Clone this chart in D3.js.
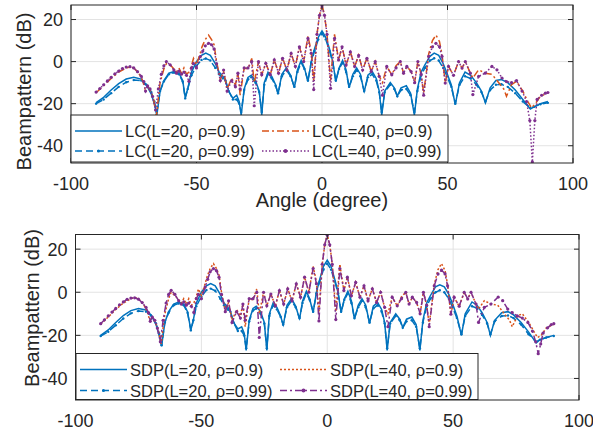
<!DOCTYPE html>
<html>
<head>
<meta charset="utf-8">
<script src="https://cdn.jsdelivr.net/npm/d3@7"></script>
<style>
  body { margin: 0; background: #fff; }
  text { font-family: Arial, "Liberation Sans", sans-serif; fill: #262626; }
</style>
</head>
<body>
<svg id="chart" width="593" height="434"></svg>
<script>
// tick labels
const xTicks = [-100, -50, 0, 50, 100];
const yTicks = [-40, -20, 0, 20];

// legend names
const lcNames = ["LC(L=20, ρ=0.9)", "LC(L=20, ρ=0.99)", "LC(L=40, ρ=0.9)", "LC(L=40, ρ=0.99)"];
const sdpNames = ["SDP(L=20, ρ=0.9)", "SDP(L=20, ρ=0.99)", "SDP(L=40, ρ=0.9)", "SDP(L=40, ρ=0.99)"];

// [angle (deg), beampattern (dB)]
const lc20a = [[-90,-19.5],[-87,-17],[-84,-13.5],[-81,-10.5],[-78,-8.3],[-75,-7.4],[-72,-8.3],[-70,-11],[-68,-15.5],[-66.8,-20],[-65.8,-25.5],[-64.5,-14],[-63,-9],[-61,-5.5],[-59,-4.7],[-57,-5.5],[-55.5,-9],[-54.5,-17],[-53.5,-13],[-52,-5],[-50,0],[-48,3],[-46.3,4],[-44.5,3],[-42.5,-1],[-41,-5],[-39.5,-7],[-38.5,-8.6],[-37.2,-14],[-35.5,-17.5],[-34,-16],[-33,-19],[-32.2,-25.5],[-31,-13],[-29.5,-7.5],[-28.2,-6.5],[-26.5,-9],[-25,-14],[-24,-25.5],[-23,-10],[-21.5,-5],[-20,-7],[-18.5,-11],[-17.5,-15.5],[-16,-6],[-14.2,-3],[-12.5,-6.5],[-11,-12.5],[-9.8,-4],[-8.3,0.5],[-7,-3],[-5.6,-9.5],[-4.3,0],[-3,6],[-1.5,11.5],[0,14.6],[1.5,11.5],[3,6],[4.3,0],[5.5,-9.5],[6.8,-3],[8.2,0.5],[9.6,-4],[10.8,-12.5],[12.3,-6],[13.8,-3],[15.3,-6],[16.8,-14.5],[18.3,-6.5],[20,-4.7],[21.6,-8],[22.8,-14],[23.8,-25.5],[25,-14],[27.2,-10],[28.8,-12.5],[30,-16.4],[31.5,-12.5],[33.6,-11.5],[35.3,-15],[36.8,-25.5],[38,-13],[39.5,-5],[41,-1.5],[43,2.5],[44.7,4],[46.5,3],[48.3,-1],[49.8,-5.5],[51.5,-11],[53.1,-20.5],[54.8,-10],[57,-5],[59.2,-6.5],[61.5,-10],[63.5,-14],[65.1,-19.6],[67,-12.5],[69.3,-9],[71.5,-8.5],[74,-10],[77,-13.5],[80,-18],[83,-22.5],[84.5,-21.5],[87,-20],[90,-19]];
const lc20b = [[-90,-20],[-87,-18],[-84,-15],[-81,-12],[-78,-9.8],[-75,-8.8],[-72,-9],[-70,-11],[-68,-14.5],[-66.8,-19],[-65.8,-24],[-64.5,-14],[-63,-9.5],[-61,-6],[-59,-5.2],[-57,-6],[-55.5,-9.5],[-54.5,-17.5],[-53.5,-13],[-52,-6.5],[-50,-2],[-48,0.8],[-46.3,1.5],[-44.5,0.5],[-42.5,-3],[-41,-6],[-39.5,-8],[-38.5,-9],[-37.2,-14],[-35.5,-18],[-34,-18],[-33,-20],[-32.2,-24],[-31,-13.5],[-29.5,-8.5],[-28.2,-7.5],[-26.5,-10],[-25,-14.5],[-24,-24],[-23,-11],[-21.5,-6],[-20,-8],[-18.5,-11.5],[-17.5,-15],[-16,-7],[-14.2,-4],[-12.5,-7],[-11,-12],[-9.8,-5],[-8.3,-0.5],[-7,-3.5],[-5.6,-9],[-4.3,-0.5],[-3,5],[-1.5,10.5],[0,13.4],[1.5,10.5],[3,5],[4.3,-0.5],[5.5,-9],[6.8,-3.5],[8.2,-0.5],[9.6,-5],[10.8,-12],[12.3,-7],[13.8,-4],[15.3,-7],[16.8,-14],[18.3,-7.5],[20,-6],[21.6,-9],[22.8,-14.5],[23.8,-24],[25,-14.5],[27.2,-11],[28.8,-13],[30,-16.5],[31.5,-13.5],[33.6,-13],[35.3,-16],[36.8,-24],[38,-14],[39.5,-6.5],[41,-3],[43,0.5],[44.7,1.6],[46.5,0.5],[48.3,-3],[49.8,-7],[51.5,-12],[53.1,-20],[54.8,-11],[57,-7],[59.2,-8],[61.5,-11],[63.5,-14.5],[65.1,-19],[67,-13.5],[69.3,-11],[71.5,-10.8],[74,-12],[77,-15],[80,-19],[83,-22],[84.5,-21.5],[87,-20.3],[90,-19.6]];
const lc40a = [[-90,-14.8],[-87,-11.5],[-84,-8],[-81,-5],[-78,-3],[-76.5,-2.5],[-75,-3],[-73,-5.5],[-71.5,-9],[-70.5,-13],[-69.5,-11.5],[-68.5,-13.5],[-67.2,-17],[-66,-26],[-64.5,-10],[-63,-3.5],[-62,-1],[-60.5,-1.5],[-59,-3.5],[-58,-5],[-57,-3],[-56,-5.5],[-55,-3],[-54,-6],[-53,-5],[-52,-2],[-51.2,1.5],[-50,-1.5],[-48.5,4],[-47.8,7],[-46.5,10.5],[-45.2,12.6],[-44,10.5],[-43,8],[-42,0],[-40.5,-8.5],[-39.2,-4.7],[-37.8,-13],[-36,-8],[-34.5,-11],[-33.5,-5.5],[-32.6,-16],[-31,-3],[-29.5,-3.5],[-28,1.5],[-27,-10],[-25.3,0],[-24,-6.3],[-22.4,-0.8],[-20.6,-6.3],[-19,0.8],[-17.3,-5.5],[-15.7,1.6],[-14,-4],[-12.3,3.9],[-10.6,-2.3],[-9,7],[-7.3,0],[-5.6,12],[-4.3,5],[-3.3,-9.4],[-2,13],[-1,22],[0,26.9],[1,22],[2,13],[3.4,-9],[5,13],[6.6,0.8],[8,7],[9.6,-1.6],[11.3,4.6],[13,-2.3],[14.6,3],[16.2,-4],[17.9,1.6],[19.6,-4.7],[21.2,0],[22.8,-7],[24.1,-10],[25.8,-2.3],[27.8,-6.3],[29.5,-2],[31.2,0],[32.5,-5.5],[33.8,-2.3],[35.5,-4.7],[36.9,-10],[38.2,0],[39.5,-6],[40.5,-15],[42.5,3.6],[44,10],[45.4,12.6],[46.8,9.5],[47.8,3.6],[49.1,-10.2],[50.4,-2.3],[52.4,-6.5],[54.4,0],[55.8,-3.1],[57.1,0],[59.1,-5.5],[60.1,-7.8],[62.4,-3.9],[65,-5.5],[67.7,-6],[69.7,-9],[72.4,-13],[73.5,-16.5],[75.5,-11],[77.5,-9.4],[80,-14],[82,-19],[83.5,-22],[85,-20],[87,-16.5],[90,-14.9]];
const lc40b = [[-90,-14.5],[-88.5,-12.8],[-87,-11],[-85.5,-9.2],[-84,-7.5],[-82.5,-5.8],[-81,-4.5],[-79.5,-3.3],[-78,-2.6],[-76.5,-2.4],[-75,-3],[-73.5,-4.8],[-72,-7],[-71,-9.5],[-70.3,-14],[-69.5,-11.5],[-68.5,-13],[-67.5,-16.6],[-66.3,-23],[-65.2,-13],[-64,-6],[-63,-2],[-62,0],[-60.5,-1.5],[-59,-4],[-58,-5.5],[-57,-4.5],[-56,-6],[-55,-5],[-54,-6.5],[-53,-9.4],[-52,-3],[-51.2,-1],[-50,-3],[-48.5,2.4],[-47.5,5],[-46.5,7.5],[-45.2,8.7],[-44,8],[-43,6],[-42,-1],[-40.5,-9],[-39.2,-4],[-37.8,-14],[-36,-9],[-34.5,-12],[-33.5,-5.5],[-32.6,-13],[-31,-3],[-29.5,-3],[-28,0],[-27,-21],[-25.3,0],[-24,-6.3],[-22.4,-0.8],[-20.6,-6.3],[-19,0.8],[-17.3,-5.5],[-15.7,1.6],[-14,-4],[-12.3,3.9],[-10.6,-2.3],[-9,7],[-7.3,0],[-5.6,11],[-4.3,4],[-3.3,-13.3],[-2,13],[-1,22],[0,26.5],[1,22],[2,13],[3.4,-12.7],[5,11],[6.6,0.8],[8,7],[9.6,-1.6],[11.3,4.6],[13,-2.3],[14.6,3],[16.2,-4],[17.9,1.6],[19.6,-4.7],[21.2,0],[22.8,-7],[24.1,-16],[25.8,-2.3],[27.8,-6.3],[29.5,-3],[31.2,0],[32.5,-5.5],[33.8,-2.3],[35.5,-4.7],[36.9,-10],[38.2,0],[39.5,-6],[40.5,-16],[42.5,2.5],[44,7],[45.4,8.7],[46.8,7],[47.8,2.5],[49.1,-10.2],[50.4,-2.3],[52.4,-6.5],[54.4,0],[55.8,-3.1],[57.1,0],[59.1,-5.5],[60.1,-15.7],[62.4,-7],[65,-5.5],[67.7,-2.3],[69.7,-3.9],[71.7,-7.8],[73.5,-9.5],[75.5,-10],[77.5,-9],[79.7,-14],[81.5,-19],[82.8,-28],[83.8,-47.7],[84.8,-28],[85.7,-18],[87.5,-16],[89,-15],[90,-14.7]];

const sdp20a = [[-90,-20],[-87,-17.5],[-84,-14],[-81,-10.8],[-78,-8.5],[-75,-7.5],[-72,-8.2],[-70,-10.5],[-68,-15],[-66.8,-20],[-65.8,-25],[-64.5,-14],[-63,-9],[-61,-5.5],[-59,-4.5],[-57,-5.5],[-55.5,-9],[-54.2,-17.5],[-53.2,-13],[-52,-5],[-50,0],[-48,3],[-46.3,4],[-44.5,3],[-42.5,-1],[-41,-5],[-39.5,-7],[-38.5,-8.6],[-37.2,-14],[-35.5,-17],[-34,-16],[-33,-19],[-32.2,-27],[-31,-13],[-29.5,-7.5],[-28.2,-6.5],[-26.5,-9],[-25,-14],[-24,-27],[-23,-10],[-21.5,-5],[-20,-7],[-18.5,-11],[-17.5,-15.5],[-16,-6],[-14.2,-3],[-12.5,-6.5],[-11,-12.5],[-9.8,-4],[-8.3,0.5],[-7,-3],[-5.6,-9.5],[-4.3,0],[-3,6],[-1.5,12],[0,14.9],[1.5,12],[3,6],[4.3,0],[5.5,-9.5],[6.8,-3],[8.2,0.5],[9.6,-4],[10.8,-12.5],[12.3,-6],[13.8,-3],[15.3,-6],[16.8,-14.5],[18.3,-6.5],[20,-4.7],[21.6,-8],[22.8,-14],[23.8,-27],[25,-14],[27.2,-10],[28.8,-12.5],[30,-16.4],[31.5,-12.5],[33.6,-11.5],[35.3,-15],[36.8,-27],[38,-13],[39.5,-5],[41,-1.5],[43,2.5],[44.7,3.4],[46.5,2.5],[48.3,-1],[49.8,-5.5],[51.5,-11],[53.3,-20],[54.8,-10],[57.5,-4.5],[59.5,-6],[61.5,-9.5],[63.5,-14],[64.8,-20],[66.5,-13],[69.3,-9.5],[71.8,-9],[74,-10.5],[77,-14],[80,-18.5],[83,-23.5],[84.5,-22],[87,-21],[90,-20]];
const sdp20b = [[-90,-20.3],[-87,-18.3],[-84,-15.3],[-81,-12.2],[-78,-9.8],[-75,-8.7],[-72,-9],[-70,-10.8],[-68,-14.5],[-66.8,-19],[-65.8,-24.6],[-64.5,-14],[-63,-9.5],[-61,-6],[-59,-5.2],[-57,-6],[-55.5,-9.5],[-54.2,-17.7],[-53.2,-13],[-52,-6.5],[-50,-2],[-48,1],[-46.3,1.7],[-44.5,0.7],[-42.5,-3],[-41,-6],[-39.5,-8],[-38.5,-9],[-37.2,-14],[-35.5,-18],[-34,-18],[-33,-20],[-32.2,-26],[-31,-13.5],[-29.5,-8.5],[-28.2,-7.5],[-26.5,-10],[-25,-14.5],[-24,-26],[-23,-11],[-21.5,-6],[-20,-8],[-18.5,-11.5],[-17.5,-15],[-16,-7],[-14.2,-4],[-12.5,-7],[-11,-12],[-9.8,-5],[-8.3,-0.5],[-7,-3.5],[-5.6,-9],[-4.3,-0.5],[-3,5],[-1.5,10.5],[0,13.3],[1.5,10.5],[3,5],[4.3,-0.5],[5.5,-9],[6.8,-3.5],[8.2,-0.5],[9.6,-5],[10.8,-12],[12.3,-7],[13.8,-4],[15.3,-7],[16.8,-14],[18.3,-7.5],[20,-6],[21.6,-9],[22.8,-14.5],[23.8,-26],[25,-14.5],[27.2,-11],[28.8,-13],[30,-16.5],[31.5,-13.5],[33.6,-13],[35.3,-16],[36.8,-26],[38,-14],[39.5,-6.5],[41,-3],[43,0],[44.7,0.9],[46.5,0],[48.3,-3],[49.8,-7],[51.5,-12],[53.3,-19.5],[54.8,-11],[57.5,-6.5],[59.5,-7.5],[61.5,-10.5],[63.5,-14.5],[64.8,-19.5],[66.5,-13.5],[69.3,-11],[71.8,-10.8],[74,-12],[77,-15],[80,-19.5],[83,-23],[84.5,-22],[87,-21],[90,-20.3]];
const sdp40a = [[-90,-14.8],[-87,-11.5],[-84,-8],[-81,-5],[-78,-3],[-76.5,-2.5],[-75,-3],[-73,-5.5],[-71.5,-9],[-70.5,-13],[-69.5,-11.5],[-68.5,-13.5],[-67.2,-17],[-66,-24],[-64.5,-10],[-63,-3],[-62,0],[-60.5,-1.5],[-59,-3.5],[-58,-5],[-57,-3],[-56,-5.5],[-55,-3],[-54,-6],[-53,-5],[-52,-2],[-51.2,1.5],[-50,-1.5],[-48.5,4],[-47.8,7],[-46.5,11],[-45.2,13.3],[-44,11],[-43,8],[-42,0],[-40.5,-8.5],[-39.2,-4.7],[-37.8,-13],[-36,-8],[-34.5,-11],[-33.5,-5.5],[-32.6,-16],[-31,-3],[-29.5,-3.5],[-28,1.5],[-27,-10],[-25.3,0],[-24,-6.3],[-22.4,-0.8],[-20.6,-6.3],[-19,0.8],[-17.3,-5.5],[-15.7,1.6],[-14,-4],[-12.3,3.9],[-10.6,-2.3],[-9,7],[-7.3,0],[-5.6,12],[-4.3,5],[-3.3,-9.4],[-2,13],[-1,22],[0,26.8],[1,22],[2,13],[3.4,-9],[5,13],[6.6,0.8],[8,7],[9.6,-1.6],[11.3,4.6],[13,-2.3],[14.6,3],[16.2,-4],[17.9,1.6],[19.6,-4.7],[21.2,0],[22.8,-7],[24.1,-10],[25.8,-2.3],[27.8,-6.3],[29.5,-2],[31.2,0],[32.5,-5.5],[33.8,-2.3],[35.5,-4.7],[36.9,-10],[38.2,0],[39.5,-6],[40.5,-15],[42.5,3.6],[44,10.5],[45.4,13.3],[46.8,10],[47.8,3.6],[49.1,-10.2],[50.4,-2.3],[52.4,-6.5],[54.4,0],[55.8,-3.1],[57.1,0],[59.1,-5.5],[60.1,-7.8],[62.4,-3.9],[65,-5.5],[67.7,-6],[69.7,-9],[72.4,-13],[73.5,-16],[75.5,-11],[77.5,-10],[80,-14],[82,-18],[83.5,-21],[85,-20],[87,-16.5],[90,-14.9]];
const sdp40b = [[-90,-14.6],[-88.5,-12.8],[-87,-11],[-85.5,-9.2],[-84,-7.5],[-82.5,-5.8],[-81,-4.5],[-79.5,-3.3],[-78,-2.7],[-76.5,-2.6],[-75,-3.2],[-73.5,-4.8],[-72,-7],[-71,-9.5],[-70.3,-13.5],[-69.5,-11.5],[-68.5,-13],[-67.5,-16.6],[-66.3,-23],[-65.2,-13],[-64,-5],[-63,-1],[-62,0.9],[-60.5,-1],[-59,-4],[-58,-5.5],[-57,-4.5],[-56,-6],[-55,-5],[-54,-6.5],[-53,-9.4],[-52,-3],[-51.2,-1],[-50,-3],[-48.5,2.4],[-47.5,6],[-46.5,9.5],[-45.2,11],[-44,10],[-43,7],[-42,-1],[-40.5,-9],[-39.2,-4],[-37.8,-14],[-36,-9],[-34.5,-12],[-33.5,-5.5],[-32.6,-13],[-31,-3],[-29.5,-3],[-28,0],[-27,-21],[-25.3,0],[-24,-6.3],[-22.4,-0.8],[-20.6,-6.3],[-19,0.8],[-17.3,-5.5],[-15.7,1.6],[-14,-4],[-12.3,3.9],[-10.6,-2.3],[-9,7],[-7.3,0],[-5.6,11],[-4.3,4],[-3.3,-13.3],[-2,13],[-1,22],[0,26.5],[1,22],[2,13],[3.4,-12.7],[5,11],[6.6,0.8],[8,7],[9.6,-1.6],[11.3,4.6],[13,-2.3],[14.6,3],[16.2,-4],[17.9,1.6],[19.6,-4.7],[21.2,0],[22.8,-7],[24.1,-16],[25.8,-2.3],[27.8,-6.3],[29.5,-3],[31.2,0],[32.5,-5.5],[33.8,-2.3],[35.5,-4.7],[36.9,-10],[38.2,0],[39.5,-6],[40.5,-16],[42.5,3],[44,8.5],[45.4,10.3],[46.8,8.5],[47.8,3],[49.1,-10.2],[50.4,-2.3],[52.4,-6.5],[54.4,0],[55.8,-3.1],[57.1,0],[59.1,-5.5],[60.1,-14],[62.4,-7],[65,-5.5],[67.9,-2.2],[69.7,-3.9],[71.7,-7.8],[73.5,-9.5],[75.5,-11],[77.5,-12],[79.7,-14],[81.5,-18],[82.8,-23],[83.8,-28.5],[84.8,-24],[85.7,-19],[87.5,-16.5],[89,-15],[90,-14.6]];

const BLUE = "#0072BD", ORANGE = "#D95319", PURPLE = "#7E2F8E", INK = "#262626";

const svg = d3.select("#chart");

function drawPanel(p) {
  const x = d3.scaleLinear().domain([-100, 100]).range([p.left, p.right]);
  const y = d3.scaleLinear().domain(p.yDomain).range([p.bottom, p.top]);
  const g = svg.append("g");

  // grid
  g.selectAll(".gx").data(xTicks).join("line")
    .attr("x1", d => x(d)).attr("x2", d => x(d))
    .attr("y1", p.top).attr("y2", p.bottom)
    .style("stroke", "#e3e3e3").style("stroke-width", 1);
  g.selectAll(".gy").data(yTicks).join("line")
    .attr("x1", p.left).attr("x2", p.right)
    .attr("y1", d => y(d)).attr("y2", d => y(d))
    .style("stroke", "#e3e3e3").style("stroke-width", 1);

  // curves
  const clipId = "clip" + p.id;
  svg.append("clipPath").attr("id", clipId).append("rect")
    .attr("x", p.left).attr("y", p.top)
    .attr("width", p.right - p.left).attr("height", p.bottom - p.top);
  const plot = g.append("g").attr("clip-path", "url(#" + clipId + ")");
  const line = d3.line().x(d => x(d[0])).y(d => y(d[1]));

  p.series.forEach(s => {
    plot.append("path")
      .datum(s.data)
      .attr("d", line)
      .style("fill", "none")
      .style("stroke", s.color)
      .style("stroke-width", 1.5)
      .style("stroke-dasharray", s.dash || null);
    if (s.marker) {
      plot.append("g").selectAll("circle")
        .data(s.data)
        .join("circle")
        .attr("cx", d => x(d[0]))
        .attr("cy", d => y(d[1]))
        .attr("r", s.marker)
        .style("fill", s.color);
    }
  });

  // box and ticks
  g.append("rect")
    .attr("x", p.left).attr("y", p.top)
    .attr("width", p.right - p.left).attr("height", p.bottom - p.top)
    .style("fill", "none").style("stroke", INK).style("stroke-width", 1);
  const tl = 5;
  xTicks.forEach(t => {
    g.append("line").attr("x1", x(t)).attr("x2", x(t)).attr("y1", p.bottom).attr("y2", p.bottom - tl).style("stroke", INK);
    g.append("line").attr("x1", x(t)).attr("x2", x(t)).attr("y1", p.top).attr("y2", p.top + tl).style("stroke", INK);
  });
  yTicks.forEach(t => {
    g.append("line").attr("x1", p.left).attr("x2", p.left + tl).attr("y1", y(t)).attr("y2", y(t)).style("stroke", INK);
    g.append("line").attr("x1", p.right).attr("x2", p.right - tl).attr("y1", y(t)).attr("y2", y(t)).style("stroke", INK);
  });

  g.selectAll(".xl").data(xTicks).join("text")
    .attr("x", d => x(d)).attr("y", p.bottom + 27)
    .attr("text-anchor", "middle")
    .style("font-size", "18px")
    .text(d => d);
  g.selectAll(".yl").data(yTicks).join("text")
    .attr("x", p.left - 8).attr("y", d => y(d) + 6.5)
    .attr("text-anchor", "end")
    .style("font-size", "18px")
    .text(d => d);

  g.append("text")
    .attr("transform", "translate(" + p.yLabelX + "," + p.yLabelY + ") rotate(-90)")
    .attr("text-anchor", "middle")
    .style("font-size", "20px")
    .text("Beampattern (dB)");

  if (p.xLabel) {
    g.append("text")
      .attr("x", (p.left + p.right) / 2).attr("y", p.bottom + 44)
      .attr("text-anchor", "middle")
      .style("font-size", "20px")
      .text(p.xLabel);
  }

  // legend
  const L = p.legend;
  const lg = g.append("g");
  lg.append("rect")
    .attr("x", L.x0).attr("y", L.y0)
    .attr("width", L.x1 - L.x0).attr("height", L.y1 - L.y0)
    .style("fill", "#fff").style("stroke", INK).style("stroke-width", 1);
  p.series.forEach((s, i) => {
    const col = i < 2 ? 0 : 1;
    const row = i % 2;
    const lx = L.cols[col], ly = L.rows[row];
    lg.append("line")
      .attr("x1", lx).attr("x2", lx + 47)
      .attr("y1", ly).attr("y2", ly)
      .style("stroke", s.color).style("stroke-width", 1.5)
      .style("stroke-dasharray", s.dash || null);
    if (s.marker) {
      lg.append("circle").attr("cx", lx + 23.5).attr("cy", ly).attr("r", s.marker + 0.3).style("fill", s.color);
    }
    lg.append("text")
      .attr("x", lx + 50).attr("y", ly + 6)
      .style("font-size", "16.5px")
      .text(p.names[i]);
  });
}

drawPanel({
  id: "top", left: 71, right: 573, top: 5, bottom: 163,
  yDomain: [-48.2, 26.9],
  yLabelX: 31, yLabelY: 91.5,
  xLabel: "Angle (degree)",
  names: lcNames,
  series: [
    { data: lc20a, color: BLUE },
    { data: lc20b, color: BLUE, dash: "7,4", marker: 1.2 },
    { data: lc40a, color: ORANGE, dash: "7,3,2,3" },
    { data: lc40b, color: PURPLE, dash: "1.5,2", marker: 1.6 }
  ],
  legend: { x0: 71, x1: 448, y0: 115, y1: 162, cols: [75, 262], rows: [131, 151] }
});

drawPanel({
  id: "bot", left: 75.5, right: 579, top: 234.5, bottom: 400,
  yDomain: [-50, 26.8],
  yLabelX: 39, yLabelY: 308,
  xLabel: null,
  names: sdpNames,
  series: [
    { data: sdp20a, color: BLUE },
    { data: sdp20b, color: BLUE, dash: "7,4", marker: 1.2 },
    { data: sdp40a, color: ORANGE, dash: "2,2" },
    { data: sdp40b, color: PURPLE, dash: "7,3,2,3", marker: 1.6 }
  ],
  legend: { x0: 76, x1: 478, y0: 353.5, y1: 399.5, cols: [80, 280], rows: [369.5, 390.5] }
});
</script>
</body>
</html>
